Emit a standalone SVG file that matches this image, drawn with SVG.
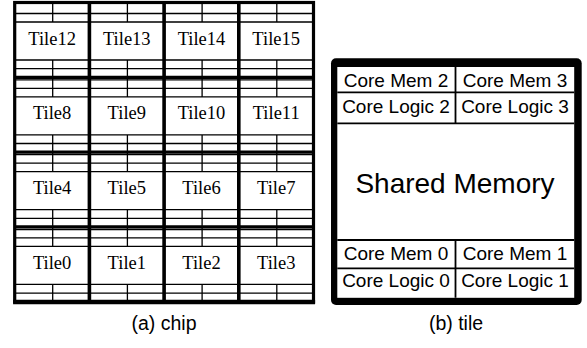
<svg xmlns="http://www.w3.org/2000/svg" xmlns:xlink="http://www.w3.org/1999/xlink" width="587" height="348" viewBox="0 0 587 348">
<style>
.thin{stroke:#000;stroke-width:1.3;fill:none}
.thick{stroke:#000;stroke-width:3.2;fill:none}
.tt{font-family:"Liberation Serif","Times New Roman",serif;font-size:18.5px;text-anchor:middle;fill:#000}
.st{font-family:"Liberation Sans",Arial,sans-serif;font-size:19px;text-anchor:middle;fill:#000}
.big{font-family:"Liberation Sans",Arial,sans-serif;font-size:28px;text-anchor:middle;fill:#000}
.cap{font-family:"Liberation Sans",Arial,sans-serif;font-size:19.5px;text-anchor:middle;fill:#000}
.cell{stroke:#000;stroke-width:1.8;fill:none}
</style>
<defs>
<g id="tl">
<path class="thin" d="M0 2.6H74.7M0 11H74.7M0 19.5H74.7M0 57.5H74.7M0 66.2H74.7M38 0V19.5M38 57.5V74.8"/>
</g>
<g id="tlTop">
<path class="thin" d="M0 11H74.7M0 19.5H74.7M0 57.5H74.7M0 66.2H74.7M38 0V19.5M38 57.5V74.8"/>
</g>
</defs>
<rect width="587" height="348" fill="#fff"/>
<g id="chip">
<g id="tile12" transform="translate(14.7,2.5)"><use xlink:href="#tlTop"/><text class="tt" x="37.4" y="42">Tile12</text></g>
<g id="tile13" transform="translate(89.4,2.5)"><use xlink:href="#tlTop"/><text class="tt" x="37.4" y="42">Tile13</text></g>
<g id="tile14" transform="translate(164.1,2.5)"><use xlink:href="#tlTop"/><text class="tt" x="37.4" y="42">Tile14</text></g>
<g id="tile15" transform="translate(238.8,2.5)"><use xlink:href="#tlTop"/><text class="tt" x="37.4" y="42">Tile15</text></g>
<g id="tile8" transform="translate(14.7,77.3)"><use xlink:href="#tl"/><text class="tt" x="37.4" y="42">Tile8</text></g>
<g id="tile9" transform="translate(89.4,77.3)"><use xlink:href="#tl"/><text class="tt" x="37.4" y="42">Tile9</text></g>
<g id="tile10" transform="translate(164.1,77.3)"><use xlink:href="#tl"/><text class="tt" x="37.4" y="42">Tile10</text></g>
<g id="tile11" transform="translate(238.8,77.3)"><use xlink:href="#tl"/><text class="tt" x="37.4" y="42">Tile11</text></g>
<g id="tile4" transform="translate(14.7,152.1)"><use xlink:href="#tl"/><text class="tt" x="37.4" y="42">Tile4</text></g>
<g id="tile5" transform="translate(89.4,152.1)"><use xlink:href="#tl"/><text class="tt" x="37.4" y="42">Tile5</text></g>
<g id="tile6" transform="translate(164.1,152.1)"><use xlink:href="#tl"/><text class="tt" x="37.4" y="42">Tile6</text></g>
<g id="tile7" transform="translate(238.8,152.1)"><use xlink:href="#tl"/><text class="tt" x="37.4" y="42">Tile7</text></g>
<g id="tile0" transform="translate(14.7,226.9)"><use xlink:href="#tl"/><text class="tt" x="37.4" y="42">Tile0</text></g>
<g id="tile1" transform="translate(89.4,226.9)"><use xlink:href="#tl"/><text class="tt" x="37.4" y="42">Tile1</text></g>
<g id="tile2" transform="translate(164.1,226.9)"><use xlink:href="#tl"/><text class="tt" x="37.4" y="42">Tile2</text></g>
<g id="tile3" transform="translate(238.8,226.9)"><use xlink:href="#tl"/><text class="tt" x="37.4" y="42">Tile3</text></g>
<g id="grid">
<path class="thick" d="M14.7 77.3H313.5M14.7 152.1H313.5M14.7 226.9H313.5"/>
<path class="thick" style="stroke-width:3.6" d="M89.4 2.5V301.7M164.1 2.5V301.7M238.8 2.5V301.7"/>
<rect class="thick" x="14.7" y="2.5" width="298.8" height="299.2"/>
<path class="thick" style="stroke-width:4.5" d="M13.1 302H315.1"/>
</g>
</g>
<g id="tile">
<rect x="331" y="58.3" width="250.7" height="246.7" rx="5" fill="#000"/>
<rect x="337.3" y="67" width="236.9" height="230.8" fill="#fff"/>
<g id="cells">
<path class="cell" d="M337.3 92.3H574.2M337.3 123.3H574.2M337.3 240H574.2M337.3 268.3H574.2M455.5 67V123.3M455.5 240V297.8"/>
</g>
<g id="coreMem2"><text class="st" x="396" y="86.5">Core Mem 2</text></g>
<g id="coreMem3"><text class="st" x="515" y="86.5">Core Mem 3</text></g>
<g id="coreLogic2"><text class="st" x="396" y="112.7">Core Logic 2</text></g>
<g id="coreLogic3"><text class="st" x="515" y="112.7">Core Logic 3</text></g>
<g id="sharedMemory"><text class="big" x="455" y="192.5">Shared Memory</text></g>
<g id="coreMem0"><text class="st" x="396" y="260">Core Mem 0</text></g>
<g id="coreMem1"><text class="st" x="515" y="260">Core Mem 1</text></g>
<g id="coreLogic0"><text class="st" x="396" y="286.7">Core Logic 0</text></g>
<g id="coreLogic1"><text class="st" x="515" y="286.7">Core Logic 1</text></g>
</g>
<g id="captions">
<text class="cap" x="164" y="330">(a) chip</text>
<text class="cap" x="456" y="330">(b) tile</text>
</g>
</svg>
